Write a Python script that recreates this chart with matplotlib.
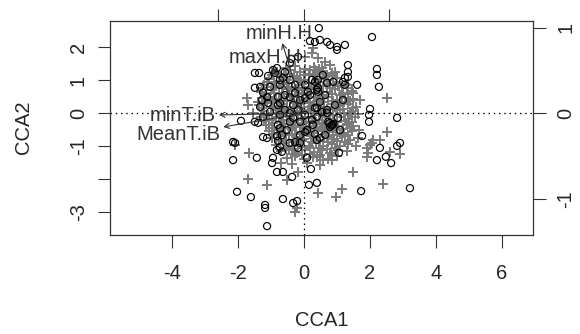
import numpy as np
import matplotlib
matplotlib.use("Agg")
import matplotlib.pyplot as plt

plt.rcParams['font.family'] = ['Liberation Sans', 'DejaVu Sans']
plt.rcParams['axes.unicode_minus'] = False

# site scores (open circles), CCA1 / CCA2
sites = [
    (0.46, 2.58), (2.07, 2.31), (0.19, 2.19), (0.34, 2.16), (0.49, 2.22), (0.71, 2.16),
    (0.80, 2.07), (1.01, 2.01), (1.01, 1.92), (1.25, 2.07), (-0.38, 1.65), (-0.42, 1.52),
    (-0.17, 1.71), (1.34, 1.46), (1.34, 1.25), (1.34, 1.10), (1.25, 1.07), (1.19, 0.95),
    (1.25, 0.86), (2.22, 1.34), (2.22, 1.16), (2.28, 0.80), (1.62, 0.86), (-1.48, 1.22),
    (-1.35, 1.22), (-1.08, 1.13), (-0.87, 1.22), (-0.81, 1.37), (-0.93, 1.31), (-0.72, 1.01),
    (-0.42, 1.01), (-0.57, 1.25), (-0.63, 1.07), (-1.48, 0.77), (-1.32, 0.80), (-1.02, 0.80),
    (-0.72, 0.86), (0.25, 1.01), (0.34, 0.95), (0.43, 1.01), (0.58, 1.16), (0.89, 0.95),
    (0.71, 0.92), (-1.23, 0.62), (-1.26, 0.40), (-1.08, 0.31), (-1.32, 0.19), (-1.11, 0.49),
    (-0.78, 0.49), (-0.72, 0.31), (-0.78, 0.25), (-0.42, 0.49), (-0.26, 0.62), (-0.32, 0.25),
    (0.13, 0.65), (0.04, 0.46), (0.40, 0.71), (0.43, 0.65), (0.43, 0.77), (0.49, 0.34),
    (1.19, 0.40), (2.01, 0.13), (1.98, -0.05), (1.98, -0.26), (2.83, -0.14), (-1.90, -0.23),
    (-1.48, -0.26), (-1.38, -0.29), (-1.23, -0.11), (-0.72, -0.05), (-0.42, 0.01), (-0.17, 0.10),
    (-0.11, -0.26), (-0.32, -0.14), (0.40, 0.16), (0.71, 0.10), (0.71, 0.01), (0.34, 0.16),
    (0.55, 0.04), (0.40, -0.11), (0.28, -0.35), (0.74, -0.26), (0.80, -0.42), (0.86, -0.35),
    (-0.78, -0.35), (-0.42, -0.26), (-2.14, -0.87), (-2.08, -0.90), (-1.23, -0.72), (-1.11, -0.75),
    (-0.81, -0.69), (-0.78, -0.84), (-0.72, -0.45), (-0.51, -0.51), (-0.42, -0.90), (-0.26, -0.87),
    (-0.11, -0.90), (0.04, -0.57), (0.10, -0.51), (0.40, -0.81), (0.49, -0.75), (0.34, -0.63),
    (-0.72, -1.02), (-0.81, -1.11), (-0.66, -1.17), (-0.17, -1.05), (1.77, -0.69), (2.31, -1.05),
    (2.83, -0.99), (2.92, -0.90), (-2.14, -1.42), (-1.42, -1.35), (-0.93, -1.35), (-0.96, -1.51),
    (-0.81, -1.78), (-0.63, -1.78), (-0.35, -1.93), (0.10, -1.35), (0.22, -1.69), (1.07, -1.20),
    (2.22, -1.42), (2.49, -1.32), (2.65, -1.51), (-2.02, -2.38), (-1.60, -2.54), (-1.17, -2.78),
    (-1.17, -2.87), (-0.63, -2.60), (-0.32, -2.72), (-0.20, -2.66), (0.16, -2.17), (0.40, -2.11),
    (1.74, -2.36), (3.22, -2.27), (-1.11, -3.42), (-0.11, 0.40), (0.19, 0.55), (0.65, 0.55),
    (0.95, 0.25), (0.04, -0.05), (0.25, -0.20), (-0.57, 0.55), (-0.26, 0.86), (0.04, 0.86),
    (-0.57, 0.10), (-1.02, 0.04), (-0.66, -0.66), (-0.11, -0.66), (0.65, -0.66), (1.04, -0.14),
    (1.10, -0.51), (0.78, -0.30), (0.84, -0.38), (0.90, -0.33),
]

# species scores (grey crosses)
species = [
    # scattered outliers
    (0.28, 1.98), (0.43, 1.68), (0.25, 1.83), (0.04, 1.71), (0.65, 1.55), (0.55, 1.37),
    (0.80, 1.46), (0.34, 1.31), (0.95, 1.25), (2.52, 0.46), (1.49, 0.62), (1.71, 0.40),
    (1.40, 0.01), (2.52, -0.57), (2.10, -0.81), (2.01, -0.96), (1.95, -1.20), (2.62, -1.17),
    (2.92, -1.23), (1.49, -1.78), (2.40, -2.14), (1.16, -2.30), (0.98, -2.54), (0.43, -2.41),
    (0.86, -1.42), (0.58, -1.42), (0.28, -1.32), (1.92, -1.32), (2.07, -0.90), (2.31, -0.81),
    (1.92, -1.05), (-1.69, -1.99), (-1.11, -2.17), (-1.66, -1.20), (-0.51, -2.02), (-0.17, -1.78),
    (-0.26, -2.99), (-0.20, -2.87), (-2.08, -0.96), (-1.69, 0.25), (-1.54, 0.01), (-1.38, 0.34),
    (-1.72, 0.46),
    # dense core
    (-0.55, 1.38), (-0.25, 1.42), (0.05, 1.33), (0.32, 1.40), (0.58, 1.28), (-0.80, 1.25),
    (0.15, 1.20), (-0.40, 1.18), (0.85, 1.22),
    (-1.05, 1.05), (-0.70, 1.10), (-0.50, 1.00), (-0.20, 1.08), (0.05, 1.02), (0.28, 1.12),
    (0.50, 1.05), (0.75, 1.00), (1.02, 1.08), (-0.90, 0.95), (0.38, 0.95), (-0.05, 0.90),
    (-1.20, 0.85), (-0.85, 0.82), (-0.60, 0.88), (-0.35, 0.80), (-0.15, 0.85), (0.15, 0.80),
    (0.30, 0.88), (0.60, 0.82), (0.88, 0.90), (1.15, 0.80), (1.35, 0.86),
    (-1.30, 0.65), (-1.00, 0.70), (-0.75, 0.62), (-0.50, 0.72), (-0.25, 0.66), (0.00, 0.70),
    (0.20, 0.62), (0.45, 0.70), (0.70, 0.65), (0.95, 0.72), (1.20, 0.62), (1.45, 0.68),
    (-0.05, 0.58), (0.60, 0.55),
    (-1.25, 0.45), (-1.05, 0.50), (-0.85, 0.42), (-0.60, 0.48), (-0.40, 0.40), (-0.15, 0.50),
    (0.08, 0.44), (0.30, 0.50), (0.50, 0.42), (0.75, 0.48), (1.00, 0.40), (1.25, 0.47),
    (1.50, 0.42), (0.18, 0.35), (-0.30, 0.32),
    (-1.35, 0.25), (-1.10, 0.30), (-0.90, 0.22), (-0.70, 0.28), (-0.50, 0.20), (-0.20, 0.25),
    (0.00, 0.30), (0.25, 0.22), (0.42, 0.28), (0.62, 0.20), (0.85, 0.27), (1.10, 0.22),
    (1.35, 0.28), (1.60, 0.20),
    (-1.20, 0.08), (-0.95, 0.02), (-0.75, 0.10), (-0.55, 0.00), (-0.30, 0.07), (-0.08, 0.00),
    (0.12, 0.10), (0.35, 0.02), (0.55, 0.08), (0.78, 0.00), (1.00, 0.10), (1.22, 0.02),
    (1.45, 0.08), (1.65, -0.02),
    (-1.30, -0.12), (-1.05, -0.18), (-0.85, -0.10), (-0.62, -0.20), (-0.40, -0.12), (-0.18, -0.20),
    (0.05, -0.10), (0.25, -0.15), (0.45, -0.22), (0.68, -0.12), (0.90, -0.20), (1.12, -0.10),
    (1.35, -0.18), (1.55, -0.12),
    (-1.15, -0.35), (-0.92, -0.30), (-0.70, -0.40), (-0.48, -0.32), (-0.25, -0.38), (-0.02, -0.30),
    (0.20, -0.40), (0.40, -0.32), (0.62, -0.38), (0.85, -0.30), (1.05, -0.40), (1.30, -0.33),
    (1.50, -0.40),
    (-1.05, -0.55), (-0.80, -0.50), (-0.58, -0.60), (-0.35, -0.52), (-0.12, -0.58), (0.10, -0.50),
    (0.32, -0.60), (0.55, -0.52), (0.78, -0.58), (1.00, -0.50), (1.22, -0.60), (1.45, -0.55),
    (1.68, -0.50),
    (-0.95, -0.75), (-0.70, -0.70), (-0.45, -0.80), (-0.22, -0.72), (0.00, -0.78), (0.22, -0.70),
    (0.45, -0.80), (0.70, -0.72), (0.92, -0.78), (1.15, -0.70), (1.40, -0.80), (1.65, -0.75),
    (-0.85, -0.95), (-0.60, -0.90), (-0.35, -1.00), (-0.10, -0.92), (0.15, -0.98), (0.38, -0.90),
    (0.60, -1.00), (0.85, -0.93), (1.10, -0.98), (1.35, -0.92), (1.60, -1.00),
    (-0.70, -1.15), (-0.45, -1.10), (-0.20, -1.20), (0.05, -1.12), (0.30, -1.18), (0.55, -1.10),
    (0.80, -1.20), (1.05, -1.12), (1.30, -1.15),
    (-0.50, -1.35), (-0.25, -1.30), (0.00, -1.40), (0.40, -1.32), (0.75, -1.38), (1.00, -1.30),
    (-0.35, -1.55), (0.10, -1.50), (0.50, -1.58), (-0.70, -1.50),
    # dense core, second layer
    (-0.40, 1.30), (-0.10, 1.25), (0.20, 1.30), (0.45, 1.35), (0.70, 1.15),
    (-0.95, 1.15), (-0.60, 1.20), (-0.30, 1.12), (0.00, 1.15), (0.40, 1.18), (0.65, 1.10),
    (0.90, 1.12),
    (-1.10, 0.95), (-0.75, 0.98), (-0.45, 0.92), (-0.10, 1.00), (0.15, 0.92), (0.50, 0.95),
    (0.72, 0.88), (1.00, 0.95), (1.25, 0.90),
    (-1.25, 0.75), (-0.95, 0.78), (-0.65, 0.75), (-0.45, 0.80), (-0.05, 0.76), (0.22, 0.72),
    (0.40, 0.80), (0.80, 0.76), (1.05, 0.82), (1.30, 0.75),
    (-1.15, 0.58), (-0.90, 0.60), (-0.62, 0.58), (-0.35, 0.55), (-0.15, 0.60), (0.10, 0.55),
    (0.35, 0.60), (0.85, 0.58), (1.10, 0.55), (1.35, 0.58),
    (-1.20, 0.35), (-0.95, 0.38), (-0.72, 0.35), (-0.50, 0.38), (-0.05, 0.40), (0.40, 0.38),
    (0.62, 0.35), (0.88, 0.38), (1.15, 0.35), (1.40, 0.38),
    (-1.25, 0.15), (-1.00, 0.18), (-0.80, 0.15), (-0.60, 0.12), (-0.40, 0.18), (-0.10, 0.15),
    (0.15, 0.18), (0.50, 0.15), (0.72, 0.12), (0.95, 0.18), (1.20, 0.12), (1.50, 0.15),
    (-1.10, -0.05), (-0.85, 0.00), (-0.65, -0.05), (-0.42, 0.00), (-0.20, -0.05), (0.22, 0.00),
    (0.45, -0.05), (0.65, -0.03), (0.90, -0.05), (1.10, 0.00), (1.35, -0.05),
    (-1.20, -0.25), (-0.95, -0.22), (-0.72, -0.28), (-0.50, -0.22), (-0.30, -0.28), (-0.05, -0.22),
    (0.15, -0.27), (0.35, -0.25), (0.55, -0.30), (0.80, -0.24), (1.00, -0.28), (1.25, -0.25),
    (1.45, -0.28),
    (-0.95, -0.45), (-0.60, -0.45), (-0.35, -0.45), (-0.12, -0.43), (0.08, -0.45), (0.30, -0.48),
    (0.50, -0.43), (0.72, -0.46), (0.95, -0.44), (1.18, -0.47), (1.40, -0.45),
    (-0.90, -0.63), (-0.68, -0.62), (-0.45, -0.66), (-0.25, -0.63), (0.00, -0.65), (0.20, -0.62),
    (0.42, -0.68), (0.65, -0.63), (0.88, -0.66), (1.10, -0.63), (1.35, -0.66),
    (-0.75, -0.85), (-0.55, -0.82), (-0.30, -0.87), (-0.05, -0.84), (0.25, -0.86), (0.50, -0.82),
    (0.75, -0.86), (1.00, -0.84), (1.25, -0.86),
    (-0.55, -1.05), (-0.30, -1.08), (-0.05, -1.03), (0.20, -1.06), (0.45, -1.04), (0.70, -1.07),
    (0.95, -1.05),
    (-0.35, -1.24), (-0.05, -1.27), (0.20, -1.25), (0.50, -1.26), (0.85, -1.27),
]

# biplot arrows (right/top axis units)
bip_labels = ["minH.H", "maxH.H", "minT.iB", "MeanT.iB"]
bip_x = [-0.25, -0.38, -0.99, -0.94]
bip_y = [0.82, 0.54, -0.02, -0.16]
bip_mul = 2.595

x_ticks = [-4, -2, 0, 2, 4, 6]
y_ticks = [-3, -2, -1, 0, 1, 2]
y_ticklabels = ["-3", "", "-1", "0", "1", "2"]
bip_ticks = [-1, 0, 1]

xlim = (-5.87, 6.95)
ylim = (-3.69, 2.81)

FS = 14.5
TXT = '#262626'

fig = plt.figure(figsize=(5.8, 3.34), dpi=100)
rect = [110 / 580, 1 - 235 / 334, 423 / 580, 214.5 / 334]
ax = fig.add_axes(rect)
ax.set_xlim(xlim)
ax.set_ylim(ylim)

sp = np.array(species)
st = np.array(sites)
ax.scatter(sp[:, 0], sp[:, 1], marker='+', s=50, color='#7a7a7a', linewidths=1.4, zorder=2)
ax.scatter(st[:, 0], st[:, 1], marker='o', s=26, facecolors='none', edgecolors='black',
           linewidths=0.85, zorder=3)
ax.axhline(0, color='black', lw=0.9, ls=(0, (1.2, 3)), zorder=4)
ax.axvline(0, color='black', lw=0.9, ls=(0, (1.2, 3)), zorder=4)

for s in ax.spines.values():
    s.set_color('#333333')
    s.set_linewidth(0.9)
ax.set_xticks(x_ticks)
ax.set_xticklabels([str(t) for t in x_ticks])
ax.set_yticks(y_ticks)
ax.set_yticklabels(y_ticklabels, rotation=90, va='center')
ax.tick_params(axis='both', direction='out', length=9, width=0.8, color='#333333',
               labelsize=FS, labelcolor=TXT)
ax.tick_params(axis='x', pad=12)
ax.tick_params(axis='y', pad=7)

fig.text(321.5 / 580, 1 - 320 / 334, "CCA1", ha='center', va='center', fontsize=FS, color=TXT)
fig.text(24 / 580, 1 - 127.7 / 334, "CCA2", ha='center', va='center', rotation=90,
         fontsize=FS, color=TXT)

# secondary axes for the biplot arrows
axb = fig.add_axes(rect)
axb.set_xlim(xlim[0] / bip_mul, xlim[1] / bip_mul)
axb.set_ylim(ylim[0] / bip_mul, ylim[1] / bip_mul)
axb.patch.set_visible(False)
for s in axb.spines.values():
    s.set_visible(False)
axb.xaxis.tick_top()
axb.yaxis.tick_right()
axb.set_xticks(bip_ticks)
axb.set_xticklabels([])
axb.set_yticks(bip_ticks)
axb.set_yticklabels([str(t) for t in bip_ticks], rotation=90, va='center')
axb.tick_params(axis='both', direction='out', length=9, width=0.8, color='#333333',
                labelsize=FS, labelcolor=TXT)
axb.tick_params(axis='y', pad=8)

texts = []
for lab, hx, hy in zip(bip_labels, bip_x, bip_y):
    axb.annotate('', xy=(hx, hy), xytext=(0, 0),
                 arrowprops=dict(arrowstyle='->', lw=0.8, color='#333333',
                                 shrinkA=0, shrinkB=0, mutation_scale=9))
    texts.append(axb.text(hx, hy, lab, ha='center', va='center', fontsize=FS, color='#333333'))

# push labels out beyond the arrow tips (like vegan's ordiArrowTextXY)
fig.canvas.draw()
r = fig.canvas.get_renderer()
for t, hx, hy in zip(texts, bip_x, bip_y):
    bb = t.get_window_extent(r)
    w, h = bb.width, bb.height * 0.65
    px, py = axb.transData.transform((hx, hy))
    ox, oy = axb.transData.transform((0, 0))
    dx, dy = px - ox, py - oy
    b = dy / dx
    offx = np.sign(dx) * (w / 2 + h / 4)
    offy = 0.75 * h * np.sign(dy)
    move = offy / b
    if abs(move) <= abs(offx):
        offx = move
    else:
        offy = b * offx
    t.set_position(axb.transData.inverted().transform((px + offx, py + offy)))

fig.savefig("out.png", dpi=100)
